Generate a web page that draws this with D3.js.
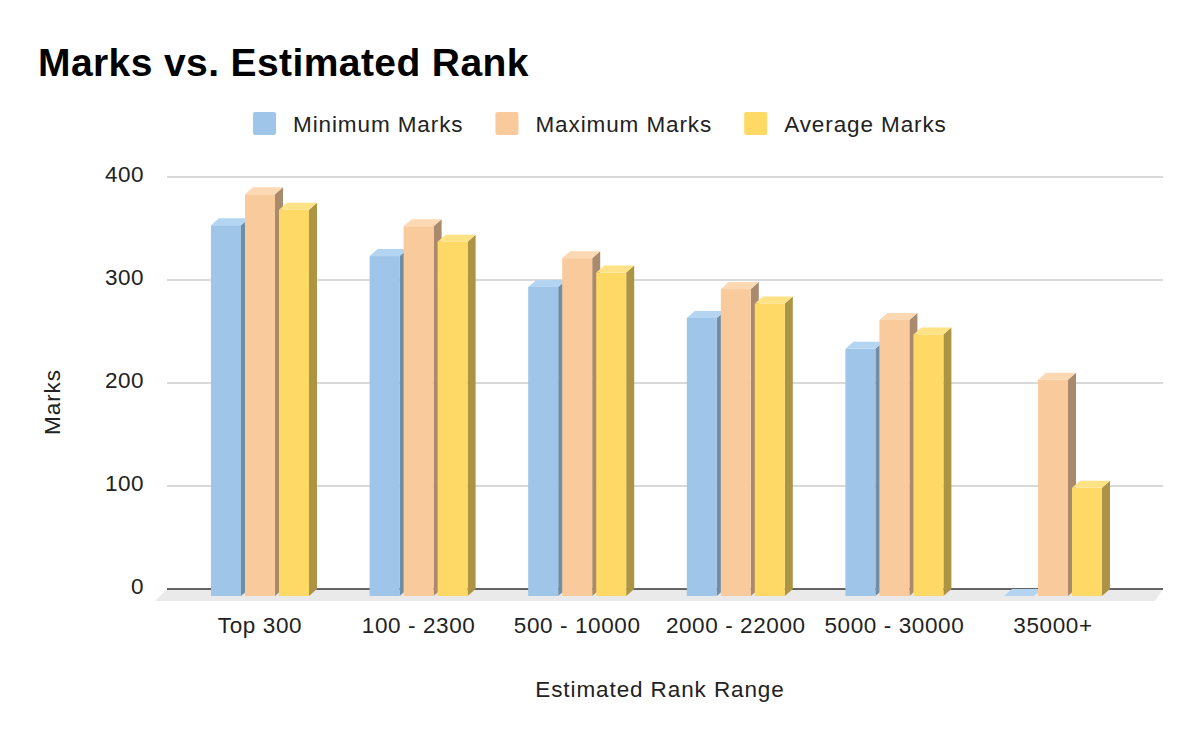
<!DOCTYPE html>
<html>
<head>
<meta charset="utf-8">
<script src="https://cdn.jsdelivr.net/npm/d3@7"></script>
<style>
  html, body { margin: 0; padding: 0; background: #fff; }
  svg { display: block; font-family: "Liberation Sans", Arial, sans-serif; }
</style>
</head>
<body>
<svg id="chart" width="1200" height="742"></svg>
<script>
// ---- data ----
const categories = ["Top 300", "100 - 2300", "500 - 10000", "2000 - 22000", "5000 - 30000", "35000+"];
const seriesNames = ["Minimum Marks", "Maximum Marks", "Average Marks"];
const minimumMarks = [360, 330, 300, 270, 240, 0];
const maximumMarks = [390, 359, 328, 298, 268, 210];
const averageMarks = [375, 344, 314, 284, 254, 105];
const yTicks = [0, 100, 200, 300, 400];

const seriesValues = [minimumMarks, maximumMarks, averageMarks];
const palette = [
  { front: "#9fc5e8", side: "#6f8ca8", top: "#b4d5f1" },
  { front: "#f9cb9c", side: "#a98a6c", top: "#fcd8b3" },
  { front: "#ffd966", side: "#ad9344", top: "#ffe285" }
];

const svg = d3.select("#chart");
const plotLeft = 167, plotRight = 1163;
const depthX = 8, depthY = 7;
const LS = "0.9px";

// back-plane scale (gridlines), front-plane scale (bar faces)
const yBack = d3.scaleLinear().domain([0, 400]).range([589, 177]);
const yFront = d3.scaleLinear().domain([0, 400]).range([589 + depthY, 177 + depthY]);

const x0 = d3.scaleBand().domain(categories).range([180.7, 1132.3]).padding(0);
const groupW = 98;
const x1 = d3.scaleBand().domain(seriesNames)
  .range([(x0.bandwidth() - groupW) / 2, (x0.bandwidth() + groupW) / 2])
  .paddingInner(4 / 34).paddingOuter(0);

// ---- title ----
svg.append("text")
  .attr("x", 38).attr("y", 76)
  .attr("font-size", 39).attr("font-weight", "bold").attr("fill", "#000")
  .attr("letter-spacing", "0.4px")
  .text("Marks vs. Estimated Rank");

// ---- legend ----
const legend = svg.append("g");
let lx = 253;
seriesNames.forEach((name, i) => {
  legend.append("rect")
    .attr("x", lx).attr("y", 112).attr("width", 23).attr("height", 23)
    .attr("rx", 2).attr("fill", palette[i].front);
  const t = legend.append("text")
    .attr("x", lx + 40).attr("y", 132)
    .attr("font-size", 22.5).attr("fill", "#222")
    .attr("letter-spacing", LS)
    .text(name);
  lx = lx + 40 + t.node().getComputedTextLength() + 32;
});

// ---- floor ----
svg.append("polygon")
  .attr("points", [[plotLeft, 589], [plotRight, 589], [plotRight - 8, 601], [plotLeft - 12, 601]].map(p => p.join(",")).join(" "))
  .attr("fill", "#eaeaea");

// ---- gridlines ----
svg.append("g").selectAll("line")
  .data(yTicks.filter(d => d !== 0))
  .join("line")
  .attr("x1", plotLeft).attr("x2", plotRight)
  .attr("y1", d => yBack(d)).attr("y2", d => yBack(d))
  .attr("stroke", "#cccccc").attr("stroke-width", 1.5);

// baseline
svg.append("line")
  .attr("x1", plotLeft).attr("x2", plotRight)
  .attr("y1", yBack(0)).attr("y2", yBack(0))
  .attr("stroke", "#333").attr("stroke-width", 1.6);

// ---- y tick labels ----
svg.append("g").selectAll("text")
  .data(yTicks)
  .join("text")
  .attr("x", 144).attr("y", d => yBack(d) - 1)
  .attr("text-anchor", "end").attr("dominant-baseline", "middle")
  .attr("font-size", 22.5).attr("fill", "#222")
  .attr("letter-spacing", "0.5px")
  .text(d => d);

// ---- bars ----
const barsG = svg.append("g");
const pts = a => a.map(p => p.join(",")).join(" ");
categories.forEach((cat, ci) => {
  seriesNames.forEach((s, si) => {
    const v = seriesValues[si][ci];
    const x = x0(cat) + x1(s);
    const w = x1.bandwidth();
    const yt = yFront(v), yb = yFront(0);
    const g = barsG.append("g");
    if (v > 0) {
      g.append("polygon")
        .attr("points", pts([[x + w, yt], [x + w + depthX, yt - depthY], [x + w + depthX, yb - depthY], [x + w, yb]]))
        .attr("fill", palette[si].side);
      g.append("rect")
        .attr("x", x).attr("y", yt).attr("width", w).attr("height", yb - yt)
        .attr("fill", palette[si].front);
    }
    g.append("polygon")
      .attr("points", pts([[x, yt], [x + depthX, yt - depthY], [x + w + depthX, yt - depthY], [x + w, yt]]))
      .attr("fill", palette[si].top);
  });
});

// ---- x labels ----
svg.append("g").selectAll("text")
  .data(categories)
  .join("text")
  .attr("x", d => x0(d) + x0.bandwidth() / 2)
  .attr("y", 633)
  .attr("text-anchor", "middle")
  .attr("font-size", 22.5).attr("fill", "#222")
  .attr("letter-spacing", "0.6px")
  .text(d => d);

// ---- axis titles ----
svg.append("text")
  .attr("x", 660).attr("y", 697)
  .attr("text-anchor", "middle")
  .attr("font-size", 22.5).attr("fill", "#222")
  .attr("letter-spacing", LS)
  .text("Estimated Rank Range");

svg.append("text")
  .attr("transform", "translate(60,402) rotate(-90)")
  .attr("text-anchor", "middle")
  .attr("font-size", 22.5).attr("fill", "#222")
  .attr("letter-spacing", LS)
  .text("Marks");
</script>
</body>
</html>
